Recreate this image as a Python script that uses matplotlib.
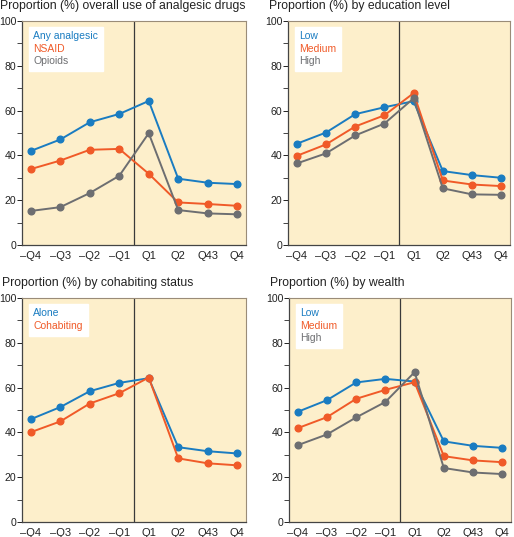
import matplotlib
matplotlib.use("Agg")
import matplotlib.pyplot as plt
from matplotlib.ticker import MultipleLocator

plt.rcParams['font.family'] = ['Liberation Sans', 'DejaVu Sans']

quarters = ["\u2013Q4", "\u2013Q3", "\u2013Q2", "\u2013Q1", "Q1", "Q2", "Q43", "Q4"]

BLUE = "#1a7cc1"
ORANGE = "#f05a28"
GRAY = "#6d6e71"
BG = "#fdefcb"

# panel 1: overall use
any_analgesic = [42.0, 47.1, 54.8, 58.5, 64.3, 29.6, 27.8, 27.2]
nsaid = [33.9, 37.7, 42.5, 42.9, 31.8, 19.0, 18.3, 17.5]
opioids = [15.2, 16.9, 23.2, 30.9, 49.9, 15.6, 14.1, 13.7]

# panel 2: education
edu_low = [45.2, 50.2, 58.4, 61.5, 64.2, 33.0, 31.2, 30.0]
edu_medium = [39.8, 44.9, 52.9, 57.9, 67.8, 28.8, 27.0, 26.3]
edu_high = [36.4, 40.9, 48.9, 54.2, 65.5, 25.3, 22.6, 22.4]

# panel 3: cohabiting
alone = [45.9, 51.3, 58.4, 62.1, 64.2, 33.4, 31.6, 30.6]
cohabiting = [40.1, 44.9, 52.9, 57.5, 64.5, 28.4, 26.2, 25.3]

# panel 4: wealth
wealth_low = [49.2, 54.4, 62.3, 63.9, 62.7, 36.0, 34.0, 33.1]
wealth_medium = [41.9, 46.8, 55.0, 59.0, 62.4, 29.4, 27.5, 26.7]
wealth_high = [34.3, 39.1, 46.7, 53.6, 66.9, 24.1, 22.1, 21.4]

panels = [
    ("Proportion (%) overall use of analgesic drugs",
     [("Any analgesic", any_analgesic, BLUE), ("NSAID", nsaid, ORANGE), ("Opioids", opioids, GRAY)]),
    ("Proportion (%) by education level",
     [("Low", edu_low, BLUE), ("Medium", edu_medium, ORANGE), ("High", edu_high, GRAY)]),
    ("Proportion (%) by cohabiting status",
     [("Alone", alone, BLUE), ("Cohabiting", cohabiting, ORANGE)]),
    ("Proportion (%) by wealth",
     [("Low", wealth_low, BLUE), ("Medium", wealth_medium, ORANGE), ("High", wealth_high, GRAY)]),
]

W, H = 514, 537
fig = plt.figure(figsize=(W / 100, H / 100), dpi=100)
# axes boxes in pixels: left, top, width, height, title x
boxes = [(22, 21, 224, 224, 0), (288, 21, 222, 224, 269), (22, 298, 224, 224, 2), (289, 298, 222, 224, 270)]

x = list(range(len(quarters)))
for (title, series), (l, t, w, h, tx) in zip(panels, boxes):
    ax = fig.add_axes([l / W, 1 - (t + h) / H, w / W, h / H])
    ax.set_facecolor(BG)
    for name, vals, col in series:
        ax.plot(x, vals, color=col, lw=1.4, marker="o", ms=4.8, label=name, zorder=3)
    ax.axvline(3.5, color="#3a3a3a", lw=0.9, zorder=2)
    ax.set_xlim(-0.3, 7.3)
    ax.set_ylim(0, 100)
    ax.set_xticks(x)
    ax.set_xticklabels(quarters)
    ax.yaxis.set_major_locator(MultipleLocator(20))
    ax.yaxis.set_minor_locator(MultipleLocator(10))
    ax.tick_params(axis="x", length=0, pad=4, labelsize=8, colors="#222222")
    ax.tick_params(axis="y", which="major", length=3.5, width=0.7, pad=0.5, labelsize=7.6, colors="#222222")
    ax.tick_params(axis="y", which="minor", length=3.5, width=0.7, colors="#444444")
    for side in ["top", "right"]:
        ax.spines[side].set_color("#9a8c78")
        ax.spines[side].set_linewidth(0.8)
    for side in ["left", "bottom"]:
        ax.spines[side].set_color("#444444")
        ax.spines[side].set_linewidth(0.9)
    leg = ax.legend(loc="upper left", frameon=True, fancybox=False, handlelength=0,
                    handletextpad=0, borderpad=0.45, labelspacing=0.25, fontsize=7.5,
                    bbox_to_anchor=(0.03, 0.975), borderaxespad=0.0)
    leg.get_frame().set_facecolor("white")
    leg.get_frame().set_edgecolor("white")
    leg.get_frame().set_alpha(1)
    for hnd, txt, (_, _, col) in zip(leg.legend_handles, leg.get_texts(), series):
        hnd.set_visible(False)
        txt.set_color(col)
    fig.text(tx / W, 1 - (t - 15) / H, title, fontsize=8.8, ha="left", va="center", color="#222222")

fig.savefig("out.png", dpi=100)
